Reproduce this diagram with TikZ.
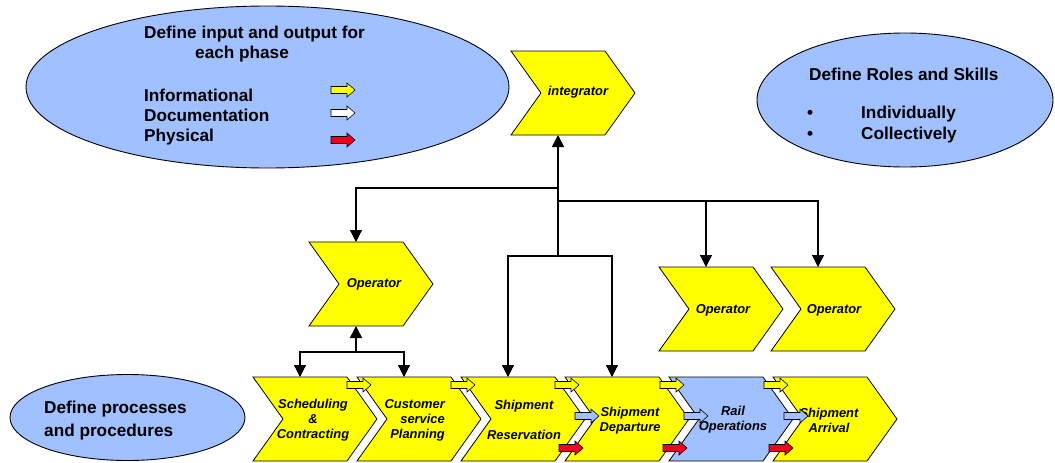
\documentclass[tikz,border=0pt]{standalone}
\usepackage{fontspec}
\setmainfont{Liberation Sans}
\usetikzlibrary{arrows.meta,shapes.geometric}

\definecolor{chevyellow}{RGB}{255,255,0}
\definecolor{paleblue}{RGB}{160,192,255}
\definecolor{flowred}{RGB}{240,0,32}

% chevron: name, left x, top y, fill colour
\newcommand\chevronshape[4]{%
  \draw[chevline, fill=#4] (#2,#3) -- ++(94,0) -- ++(30,42) -- ++(-30,42)
     -- ++(-94,0) -- ++(30,-42) -- cycle;
  \node[chevbox] (#1) at ({#2+62},{#3+42}) {};
  \coordinate (#1-top) at ({#2+47},#3);
  \coordinate (#1-bot) at ({#2+47},{#3+84});
}

\begin{document}
\begin{tikzpicture}[x=1pt,y=-1pt,
  chevline/.style={draw=black, line width=0.8pt, line join=miter},
  chevbox/.style={rectangle, draw=none, inner sep=0pt, minimum width=124pt, minimum height=84pt},
  bubble/.style={ellipse, draw=black, line width=0.9pt, fill=paleblue, inner sep=0pt},
  headtext/.style={font=\fontsize{17.2}{20}\selectfont\bfseries, inner sep=0pt},
  steptext/.style={font=\fontsize{12.9}{15}\selectfont\bfseries\itshape, inner sep=0pt, align=center},
  conn/.style={draw=black, line width=1.2pt, -{Triangle[length=12pt,width=12pt]}},
  flowarrline/.style={draw=black, line width=0.6pt},
  flowarrow/.pic={\path[flowarrline, pic actions] (0,-3.5) -- (16,-3.5) -- (16,-7) -- (24,0)
      -- (16,7) -- (16,3.5) -- (0,3.5) -- cycle;},
]
\useasboundingbox (0,0) rectangle (1055,463);

% the three topic bubbles
\node[bubble, minimum width=483pt, minimum height=162pt] (inout) at (267.5,87) {};
\node[bubble, minimum width=296pt, minimum height=134pt] (roles) at (905,100) {};
\node[bubble, minimum width=235pt, minimum height=86pt] (procs) at (127.5,417.5) {};

\node[headtext, anchor=west, align=left] (inout-title) at (144,44.5)
  {Define input and output for\\\hspace*{51pt}each phase};
\node[headtext, anchor=west, align=left] (kinds) at (144,117) {Informational\\Documentation\\Physical};
\pic[fill=chevyellow] at (331,90) {flowarrow};
\pic[fill=white] at (331,113) {flowarrow};
\pic[fill=flowred] at (331,140) {flowarrow};

\node[headtext, anchor=west] (roles-title) at (809,74) {Define Roles and Skills};
\node[headtext, anchor=west, align=left] (roles-bullets) at (807,124.5) {•\\[1pt]•};
\node[headtext, anchor=west, align=left] (roles-list) at (861,124.5) {Individually\\[1pt]Collectively};

\node[headtext, anchor=west, align=left] (procs-text) at (44,420.5) {Define processes\\[3pt]and procedures};

% chevrons
\chevronshape{int}{511}{51}{chevyellow}
\chevronshape{opA}{309}{242}{chevyellow}
\chevronshape{opB}{659}{267}{chevyellow}
\chevronshape{opC}{771}{267}{chevyellow}
\chevronshape{sched}{253}{377}{chevyellow}
\chevronshape{cust}{357}{377}{chevyellow}
\chevronshape{res}{461}{377}{chevyellow}
\chevronshape{dep}{565}{377}{chevyellow}
\chevronshape{rail}{669}{377}{paleblue}
\chevronshape{arr}{773}{377}{chevyellow}

% connectors
\coordinate (jl) at (558,188);
\coordinate (jr) at (558,201);
\coordinate (hub) at (558,256);
\coordinate (opfork) at (356,352);
\draw[conn, line width=1.6pt] (hub) -- (int-bot);
\draw[conn] (jl) -| (opA-top);
\draw[conn] (jr) -| (opC-top);
\draw[conn] (opB-top |- jr) -- (opB-top);
\draw[conn] (hub) -| (res-top);
\draw[conn] (hub) -| (dep-top);
\draw[conn, line width=1.6pt] (opfork) -- (opA-bot);
\draw[conn] (opfork) -| (sched-top);
\draw[conn] (opfork) -| (cust-top);

% labels
\node[steptext] (int-label) at (578,92) {integrator};
\node[steptext] (opA-label) at (374,284) {Operator};
\node[steptext] (opB-label) at (723,310) {Operator};
\node[steptext] (opC-label) at (834,310) {Operator};
\node[steptext] (sched-label) at (313,420) {Scheduling\\\&\\Contracting};
\node[steptext, align=right, anchor=east] (cust-label) at (445,420) {Customer\\service\\Planning};
\node[steptext] (res-label) at (524,420) {Shipment\\[15pt]Reservation};
\node[steptext] (dep-label) at (630,420.5) {Shipment\\Departure};
\node[steptext] (rail-label) at (733,420) {Rail\\Operations};
\node[steptext] (arr-label) at (829,420) {Shipment\\Arrival};

% hand-over arrows between phases
\foreach \x in {347,451,555,660,764} \pic[fill=chevyellow] at (\x,385) {flowarrow};
\foreach \x in {575,684,784} \pic[fill=paleblue] at (\x,416) {flowarrow};
\foreach \x in {559,663,769} \pic[fill=flowred] at (\x,448) {flowarrow};
\end{tikzpicture}
\end{document}
